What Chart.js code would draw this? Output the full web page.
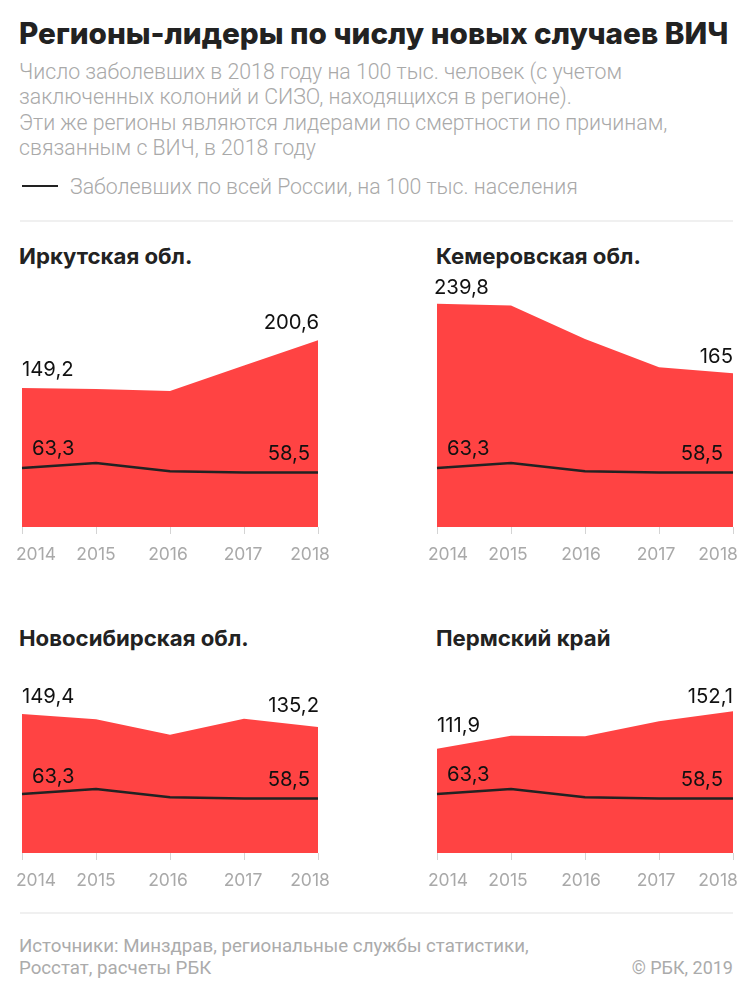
<!DOCTYPE html>
<html lang="ru">
<head>
<meta charset="utf-8">
<title>Регионы-лидеры по числу новых случаев ВИЧ</title>
<script src="https://cdn.jsdelivr.net/npm/chart.js@4"></script>
<style>
  html, body { margin: 0; padding: 0; background: #fff; }
  #page { position: relative; width: 750px; height: 1001px; overflow: hidden; font-family: Roboto, sans-serif; }
  #page > * { position: absolute; }
  .txt { white-space: nowrap; margin: 0; }
  h1 { left: 19px; top: 15px; font: 800 29.7px/36px Inter, sans-serif; color: #222; }
  .sub { left: 19px; font: 300 21.3px/26px Roboto, sans-serif; color: #a9a9a9; }
  .rule { left: 20px; width: 713px; height: 2px; background: #f0f0f0; }
  h2 { font: 700 22.2px/26px Inter, sans-serif; color: #222; }
  .src { font: 400 18.7px/22px Roboto, sans-serif; color: #ababab; }
  canvas { display: block; }
</style>
</head>
<body>
<div id="page">
  <h1 class="txt">Регионы-лидеры по числу новых случаев ВИЧ</h1>
  <p class="txt sub" style="top:59px">Число заболевших в 2018 году на 100 тыс. человек (с учетом</p>
  <p class="txt sub" style="top:84px">заключенных колоний и СИЗО, находящихся в регионе).</p>
  <p class="txt sub" style="top:110px">Эти же регионы являются лидерами по смертности по причинам,</p>
  <p class="txt sub" style="top:135px">связанным с ВИЧ, в 2018 году</p>
  <div style="left:22px;top:185px;width:36px;height:2px;background:#222"></div>
  <p class="txt sub" style="left:70px;top:174px">Заболевших по всей России, на 100 тыс. населения</p>
  <div class="rule" style="top:220px"></div>
  <h2 class="txt" style="left:19px;top:243px">Иркутская обл.</h2>
  <h2 class="txt" style="left:436px;top:243px">Кемеровская обл.</h2>
  <h2 class="txt" style="left:19px;top:625px">Новосибирская обл.</h2>
  <h2 class="txt" style="left:436px;top:625px">Пермский край</h2>
  <canvas id="irkutsk" width="375" height="300" style="left:0;top:270px"></canvas>
  <canvas id="kemerovo" width="375" height="300" style="left:375px;top:270px"></canvas>
  <canvas id="novosib" width="375" height="300" style="left:0;top:596px"></canvas>
  <canvas id="perm" width="375" height="300" style="left:375px;top:596px"></canvas>
  <div class="rule" style="top:912px"></div>
  <p class="txt src" style="left:19px;top:935px">Источники: Минздрав, региональные службы статистики,</p>
  <p class="txt src" style="left:19px;top:957px">Росстат, расчеты РБК</p>
  <p class="txt src" style="right:17px;top:957px;font-size:18px">© РБК, 2019</p>
</div>
<script>
const years = ["2014", "2015", "2016", "2017", "2018"];
const russia = [63.3, 68.6, 59.8, 58.4, 58.5];
const irkutsk = [149.2, 148.2, 146, 173.4, 200.6];
const kemerovo = [239.8, 238, 202, 171.5, 165];
const novosib = [149.4, 143.6, 127, 144.3, 135.2];
const perm = [111.9, 126, 125.3, 141.5, 152.1];
const russiaText = ["63,3", "58,5"];
const irkutskText = ["149,2", "200,6"];
const kemerovoText = ["239,8", "165"];
const novosibText = ["149,4", "135,2"];
const permText = ["111,9", "152,1"];

const RED = "#ff4343";
const LABEL_FONT = '400 20.3px Inter, sans-serif';
const TICK_FONT = '400 17.5px Inter, sans-serif';
/* year labels are nudged off their ticks, the original has them hand placed per column */
const leftYearShift = [14, 0, -2, -1, -8];
const rightYearShift = [11, -3, -4, -3, -15];

const valueLabels = {
  id: "valueLabels",
  afterDraw(chart, args, opts) {
    const { ctx, scales } = chart;
    const last = years.length - 1;
    const put = (text, x, y, align) => {
      ctx.textAlign = align;
      ctx.fillText(text, x, y);
    };
    ctx.save();
    ctx.textBaseline = "alphabetic";
    ctx.font = LABEL_FONT;
    ctx.fillStyle = "#111";
    put(opts.text[0], scales.x.getPixelForValue(0) + opts.firstShift, scales.y.getPixelForValue(opts.values[0]) - opts.gaps[0], "left");
    put(opts.text[1], scales.x.getPixelForValue(last) + opts.lastShift, scales.y.getPixelForValue(opts.values[last]) - opts.gaps[1], "right");
    put(russiaText[0], scales.x.getPixelForValue(0) + 10, scales.y.getPixelForValue(russia[0]) - opts.gaps[2], "left");
    put(russiaText[1], scales.x.getPixelForValue(last) + opts.russiaShift, scales.y.getPixelForValue(russia[last]) - opts.gaps[3], "right");
    ctx.font = TICK_FONT;
    ctx.fillStyle = "#a9a9a9";
    years.forEach((y, i) => {
      put(y, scales.x.getPixelForValue(i) + opts.yearShift[i], scales.y.bottom + 33, "center");
    });
    ctx.restore();
  },
};

function drawPanel(id, values, text, gaps, padLeft, padRight, labelOpts) {
  new Chart(document.getElementById(id), {
    type: "line",
    data: {
      labels: years,
      datasets: [
        {
          label: "Заболевших по всей России, на 100 тыс. населения",
          data: russia,
          borderColor: "#222",
          borderWidth: 2.5,
          pointRadius: 0,
          tension: 0,
          fill: false,
          order: 1,
        },
        {
          label: "Заболевших в регионе",
          data: values,
          backgroundColor: RED,
          borderWidth: 0,
          pointRadius: 0,
          tension: 0,
          fill: "origin",
          order: 2,
        },
      ],
    },
    options: {
      responsive: false,
      animation: false,
      devicePixelRatio: 1,
      layout: { padding: { left: padLeft, right: padRight, top: 0, bottom: 0 } },
      plugins: {
        legend: { display: false },
        tooltip: { enabled: false },
        valueLabels: { values, text, gaps, ...labelOpts },
      },
      scales: {
        x: {
          offset: false,
          afterFit(scale) {
            scale.height = 43;
          },
          ticks: { display: false },
          border: { display: false },
          grid: { drawOnChartArea: false, drawTicks: true, tickLength: 7, color: "#d4d4d4" },
        },
        y: { display: false, min: 0, max: 276 },
      },
    },
    plugins: [valueLabels],
  });
}

const leftCol = { yearShift: leftYearShift, firstShift: 0, lastShift: 1, russiaShift: -8 };
const rightCol = { yearShift: rightYearShift, firstShift: 0, lastShift: 0, russiaShift: -10 };

drawPanel("irkutsk", irkutsk, irkutskText, [12, 11, 13, 13], 22, 57, leftCol);
drawPanel("kemerovo", kemerovo, kemerovoText, [10, 10, 13, 13], 62, 17, { ...rightCol, firstShift: -3 });
drawPanel("novosib", novosib, novosibText, [11, 15, 11, 13], 22, 57, leftCol);
drawPanel("perm", perm, permText, [17, 8, 13, 13], 62, 17, rightCol);
</script>
</body>
</html>
